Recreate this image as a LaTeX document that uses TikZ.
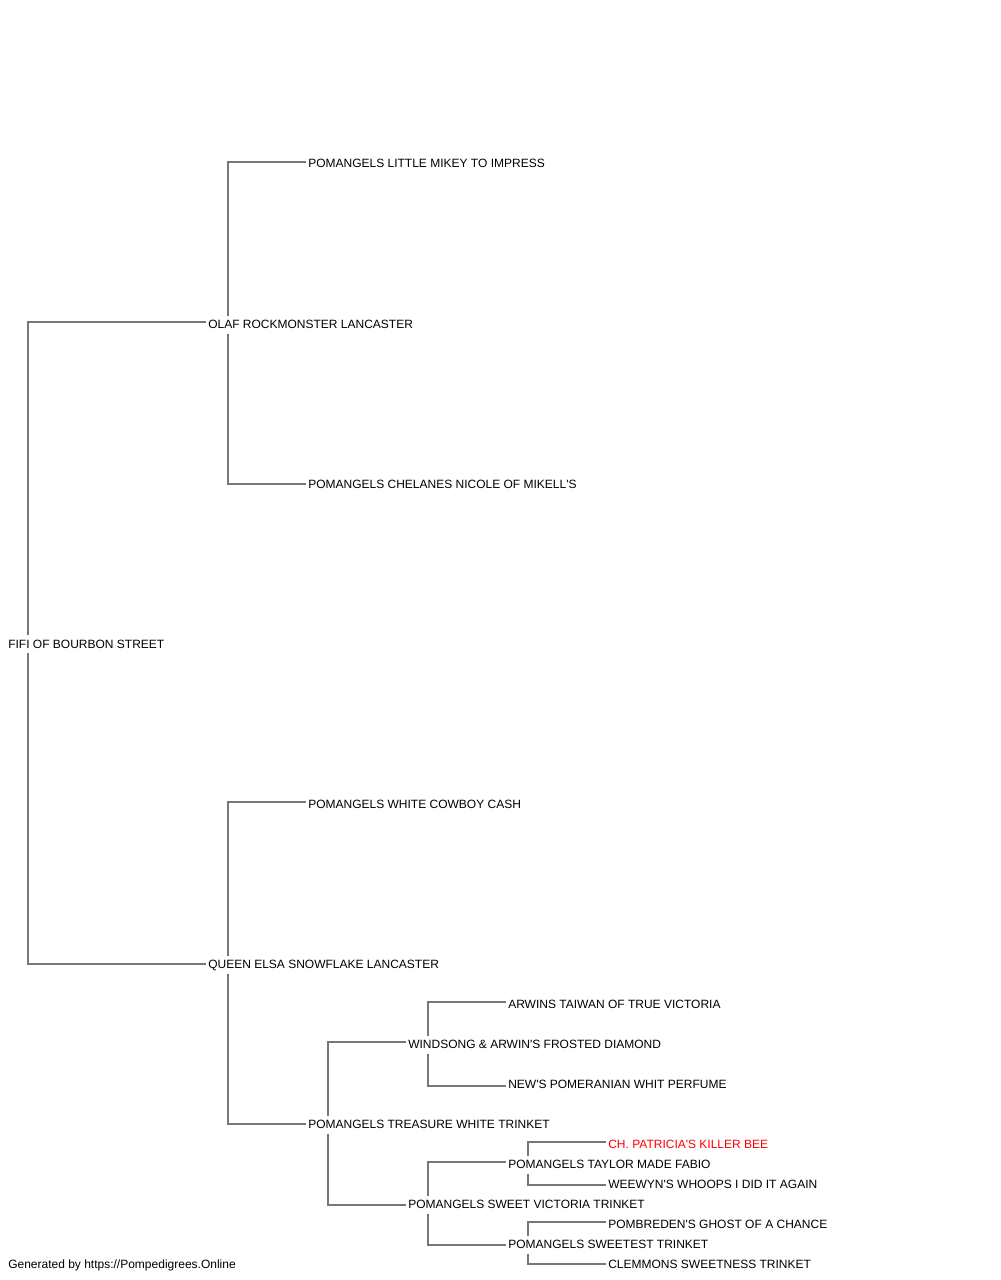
\documentclass[tikz,border=0pt]{standalone}
\usepackage{fontspec}
\setmainfont{Liberation Sans}[Ligatures=TeXOff]
\usetikzlibrary{calc}
\definecolor{linkgray}{HTML}{777777}
\definecolor{beered}{HTML}{FF0000}
\tikzset{
  dog/.style={anchor=base west, inner sep=0pt, font=\fontsize{9pt}{10pt}\selectfont, text=black},
  link/.style={draw=linkgray, line width=1pt},
}
\begin{document}
\begin{tikzpicture}[x=0.75pt, y=-0.75pt]
\useasboundingbox[fill=white] (0,0) rectangle (1000,1280);
% generation 0
\node[dog] (fifi) at (8,648) {FIFI OF BOURBON STREET};
% generation 1
\node[dog] (olaf) at (208,328) {OLAF ROCKMONSTER LANCASTER};
\node[dog] (elsa) at (208,968) {QUEEN ELSA SNOWFLAKE LANCASTER};
% generation 2
\node[dog] (mikey) at (308,168) {POMANGELS LITTLE MIKEY TO IMPRESS};
\node[dog] (chel) at (308,488) {POMANGELS CHELANES NICOLE OF MIKELL'S};
\node[dog] (cowboy) at (308,808) {POMANGELS WHITE COWBOY CASH};
\node[dog] (treas) at (308,1128) {POMANGELS TREASURE WHITE TRINKET};
% generation 3
\node[dog] (wind) at (408,1048) {WINDSONG \& ARWIN'S FROSTED DIAMOND};
\node[dog] (sweetv) at (408,1208) {POMANGELS SWEET VICTORIA TRINKET};
% generation 4
\node[dog] (arwins) at (508,1008) {ARWINS TAIWAN OF TRUE VICTORIA};
\node[dog] (news) at (508,1088) {NEW'S POMERANIAN WHIT PERFUME};
\node[dog] (taylor) at (508,1168) {POMANGELS TAYLOR MADE FABIO};
\node[dog] (sweetest) at (508,1248) {POMANGELS SWEETEST TRINKET};
% generation 5
\node[dog, text=beered] (bee) at (608,1148) {CH. PATRICIA'S KILLER BEE};
\node[dog] (weewyn) at (608,1188) {WEEWYN'S WHOOPS I DID IT AGAIN};
\node[dog] (ghost) at (608,1228) {POMBREDEN'S GHOST OF A CHANCE};
\node[dog] (clem) at (608,1268) {CLEMMONS SWEETNESS TRINKET};
% footer
\node[dog] (footer) at (8,1268) {Generated by https://Pompedigrees.Online};
% connectors: sire (upper) and dam (lower)
\draw[link] ($(fifi.base west)+(20,-13)$) |- ($(olaf.base west)+(-2,-6)$);
\draw[link] ($(fifi.base west)+(20,5)$) |- ($(elsa.base west)+(-2,-4)$);
\draw[link] ($(olaf.base west)+(20,-12)$) |- ($(mikey.base west)+(-2,-6)$);
\draw[link] ($(olaf.base west)+(20,6)$) |- ($(chel.base west)+(-2,-4)$);
\draw[link] ($(elsa.base west)+(20,-12)$) |- ($(cowboy.base west)+(-2,-6)$);
\draw[link] ($(elsa.base west)+(20,6)$) |- ($(treas.base west)+(-2,-4)$);
\draw[link] ($(treas.base west)+(20,-12)$) |- ($(wind.base west)+(-2,-6)$);
\draw[link] ($(treas.base west)+(20,6)$) |- ($(sweetv.base west)+(-2,-3)$);
\draw[link] ($(wind.base west)+(20,-12)$) |- ($(arwins.base west)+(-2,-6)$);
\draw[link] ($(wind.base west)+(20,6)$) |- ($(news.base west)+(-2,-2)$);
\draw[link] ($(sweetv.base west)+(20,-12)$) |- ($(taylor.base west)+(-2,-6)$);
\draw[link] ($(sweetv.base west)+(20,6)$) |- ($(sweetest.base west)+(-2,-3)$);
\draw[link] ($(taylor.base west)+(20,-12)$) |- ($(bee.base west)+(-2,-6)$);
\draw[link] ($(taylor.base west)+(20,6)$) |- ($(weewyn.base west)+(-2,-3)$);
\draw[link] ($(sweetest.base west)+(20,-12)$) |- ($(ghost.base west)+(-2,-6)$);
\draw[link] ($(sweetest.base west)+(20,6)$) |- ($(clem.base west)+(-2,-4)$);
\end{tikzpicture}
\end{document}
